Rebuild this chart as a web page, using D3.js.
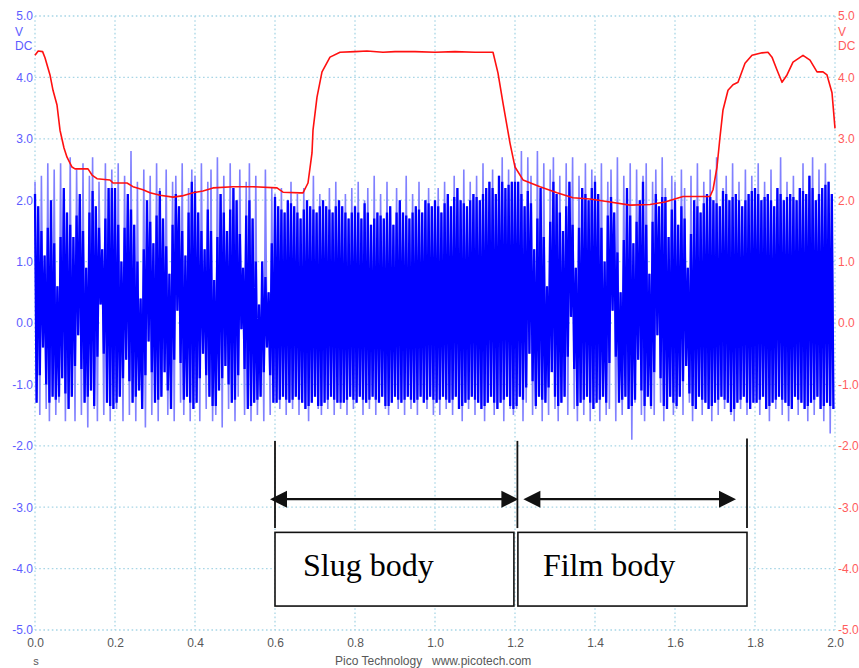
<!DOCTYPE html>
<html>
<head>
<meta charset="utf-8">
<script src="https://cdn.jsdelivr.net/npm/d3@7/dist/d3.min.js"></script>
<style>
  body { margin: 0; background: #ffffff; }
  svg { display: block; }
</style>
</head>
<body>
<svg id="scope" width="859" height="668"></svg>
<script>
// ---- Channel A (blue): successive positive / negative peaks of the pressure signal, V
// one high and one low per 8 ms, 0.0 s .. 2.0 s
const channelAHigh = [
  2.3, 1.9, 2.4, 1.1, 2.6, 2.0, 2.5, 0.6, 2.6, 2.2, 1.8, 2.7, 1.4, 2.5, 2.1, 2.6, 0.9, 2.4, 2.7, 1.9, 2.3, 1.2, 2.6, 2.2, 2.5,
  2.2, 2.6, 1.0, 2.4, 2.1, 2.8, 1.6, 2.3, 0.4, 2.5, 2.0, 2.4, 1.3, 2.6, 2.2, 1.7, 2.5, 0.8, 2.3, 2.4, 1.9, 2.6, 1.1, 2.2, 2.5,
  2.4, 1.8, 2.6, 1.2, 2.3, 2.5, 0.7, 2.7, 2.1, 2.4, 1.5, 2.6, 2.2, 2.0, 2.5, 0.9, 2.3, 2.6, 1.7, 2.4, 0.3, 1.0, 2.5, 0.5, 2.2,
  2.1, 1.9, 2.2, 1.8, 2.0, 2.3, 1.9, 2.1, 1.7, 2.2, 2.0, 1.9, 2.4, 1.8, 2.1, 2.0, 1.9, 2.2, 1.8, 2.3, 2.0, 1.9, 2.1, 1.7, 2.2,
  1.9, 2.3, 1.7, 2.0, 2.2, 1.6, 2.4, 1.8, 2.1, 1.7, 2.3, 1.9, 1.6, 2.2, 2.0, 1.8, 2.4, 1.7, 2.1, 1.9, 2.3, 1.8, 2.0, 2.2, 1.9,
  2.0, 2.2, 1.8, 2.3, 2.1, 1.9, 2.4, 2.2, 2.0, 2.5, 1.9, 2.3, 2.1, 2.4, 2.0, 2.6, 2.2, 2.3, 2.5, 2.1, 2.4, 2.7, 2.2, 2.5, 2.3,
  2.6, 2.3, 2.8, 1.9, 2.7, 2.4, 1.2, 2.8, 2.2, 2.6, 0.6, 2.5, 2.7, 2.1, 2.4, 1.5, 2.6, 2.3, 2.7, 0.9, 2.4, 2.2, 2.6, 2.0, 2.5,
  2.4, 2.1, 2.6, 1.0, 2.3, 2.5, 1.8, 2.7, 0.5, 2.4, 2.2, 2.6, 1.3, 2.5, 2.0, 2.4, 2.6, 0.8, 2.3, 2.5, 1.9, 2.7, 2.2, 1.4, 2.4,
  2.3, 1.6, 2.5, 2.2, 0.9, 2.4, 2.0, 2.6, 1.8, 2.3, 2.1, 2.5, 2.0, 2.7, 1.9, 2.2, 2.4, 2.0, 2.6, 2.1, 2.3, 1.9, 2.5, 2.1, 2.4,
  2.2, 2.6, 2.0, 2.3, 2.1, 2.5, 1.9, 2.2, 2.7, 2.0, 2.3, 2.1, 2.4, 2.0, 2.2, 2.6, 2.1, 2.4, 2.7, 2.0, 2.5, 2.2, 2.6, 2.3, 2.1
];
const channelALow = [
  -1.3, -1.5, -0.4, -1.4, -1.6, -1.2, -1.5, -1.3, -0.9, -1.6, -1.4, -1.2, -1.6, -0.2, -1.5, -1.3, -1.7, -1.1, -1.4, -1.6, 0.3, -1.5, -1.3, -1.6, -1.4,
  -1.4, -1.2, -1.6, -0.6, -1.5, -1.3, -1.6, -1.1, -1.4, -1.7, -0.3, -1.5, -1.3, -1.6, -1.2, -0.8, -1.5, -1.4, -1.6, 0.2, -1.3, -1.5, -1.2, -1.6, -1.4,
  -1.3, -1.6, -0.5, -1.4, -1.2, -1.6, -1.5, -1.1, -1.7, -0.7, -1.4, -1.3, -1.6, -1.2, -0.1, -1.5, -1.4, -1.6, -1.3, -1.5, -1.2, -1.6, -0.4, -1.5, -1.3,
  -1.3, -1.4, -1.2, -1.5, -1.3, -1.4, -1.2, -1.5, -1.3, -1.4, -1.6, -1.3, -1.2, -1.4, -1.5, -1.3, -1.4, -1.2, -1.5, -1.3, -1.4, -1.3, -1.5, -1.2, -1.4,
  -1.3, -1.2, -1.5, -1.3, -1.4, -1.2, -1.5, -1.3, -1.2, -1.4, -1.5, -1.3, -1.2, -1.4, -1.3, -1.5, -1.2, -1.4, -1.3, -1.5, -1.2, -1.3, -1.4, -1.2, -1.5,
  -1.3, -1.5, -1.2, -1.4, -1.3, -1.5, -1.2, -1.4, -1.6, -1.3, -1.4, -1.2, -1.5, -1.3, -1.4, -1.6, -1.3, -1.2, -1.5, -1.4, -1.3, -1.6, -1.2, -1.4, -1.5,
  -1.4, -1.2, -1.6, -1.3, -0.5, -1.5, -1.4, -1.2, -1.6, -1.3, -1.5, -0.8, -1.4, -1.6, -1.3, -1.2, -1.5, 0.1, -1.4, -1.6, -1.3, -1.5, -1.2, -1.6, -1.4,
  -1.3, -1.6, -1.2, -1.5, -1.4, 0.2, -1.6, -1.3, -1.5, -1.2, -1.4, -1.9, -1.3, -0.6, -1.5, -1.6, -1.2, -1.4, -1.5, -0.2, -1.3, -1.6, -1.4, -1.2, -1.5,
  -1.4, -1.2, -1.5, -0.7, -1.3, -1.6, -1.4, -1.2, -1.5, -1.3, -1.4, -1.6, -1.3, -1.5, -1.2, -1.4, -1.3, -1.5, -1.6, -1.3, -1.4, -1.2, -1.5, -1.4, -1.3,
  -1.3, -1.5, -1.2, -1.4, -1.6, -1.3, -1.4, -1.2, -1.5, -1.3, -1.6, -1.4, -1.2, -1.5, -1.3, -1.4, -1.6, -1.3, -1.5, -1.2, -1.4, -1.6, -1.3, -1.8, -1.4
];
const channelAPeriod = 0.008; // s between successive highs

// ---- Channel B (red): conductance probe voltage, V
const channelBTime = [
  0.0, 0.008, 0.019, 0.025, 0.0375, 0.045, 0.055, 0.0625, 0.0725, 0.08, 0.0925, 0.1, 0.1325, 0.1425, 0.155, 0.1875,
  0.195, 0.23, 0.245, 0.27, 0.2875, 0.3125, 0.345, 0.3675, 0.395, 0.42, 0.445, 0.495, 0.545, 0.605, 0.62, 0.6625,
  0.67, 0.6825, 0.6925, 0.695, 0.705, 0.7175, 0.7375, 0.7625, 0.8, 0.83, 0.87, 0.9, 0.95, 1.0, 1.05, 1.1, 1.145,
  1.1575, 1.17, 1.1875, 1.2, 1.22, 1.2625, 1.305, 1.345, 1.3875, 1.4375, 1.4875, 1.5375, 1.575, 1.62, 1.6875,
  1.695, 1.705, 1.7125, 1.72, 1.7325, 1.745, 1.7575, 1.775, 1.7925, 1.8175, 1.8325, 1.8425, 1.855, 1.8675, 1.88,
  1.895, 1.92, 1.9375, 1.955, 1.97, 1.98, 1.9925, 2.0
];
const channelBVolt = [
  4.36, 4.43, 4.42, 4.32, 4.04, 3.79, 3.55, 3.14, 2.85, 2.70, 2.54, 2.51, 2.51, 2.41, 2.35, 2.33,
  2.28, 2.28, 2.22, 2.17, 2.12, 2.08, 2.05, 2.07, 2.12, 2.15, 2.20, 2.22, 2.22, 2.20, 2.13, 2.12,
  2.12, 2.28, 2.77, 3.14, 3.68, 4.09, 4.33, 4.41, 4.42, 4.43, 4.41, 4.42, 4.42, 4.41, 4.42, 4.41, 4.41,
  4.07, 3.58, 2.93, 2.54, 2.33, 2.22, 2.12, 2.04, 2.02, 1.97, 1.92, 1.93, 1.97, 2.06, 2.06,
  2.17, 2.54, 3.03, 3.47, 3.79, 3.88, 3.92, 4.23, 4.36, 4.40, 4.41, 4.33, 4.12, 3.92, 4.04,
  4.25, 4.36, 4.28, 4.09, 4.09, 4.04, 3.75, 3.17
];

// ---- Axes
const timeTicks = [0.0, 0.2, 0.4, 0.6, 0.8, 1.0, 1.2, 1.4, 1.6, 1.8, 2.0];
const voltTicks = [-5, -4, -3, -2, -1, 0, 1, 2, 3, 4, 5];

// ---- Flow-regime annotation: region boundaries (s) and names
const regionBounds = [0.6, 1.206, 1.78];
const regionNames = ["Slug body", "Film body"];

const svg = d3.select("#scope");
const x = d3.scaleLinear().domain([0, 2]).range([35, 835]);
const y = d3.scaleLinear().domain([-5, 5]).range([630, 16]);
const fmt = d => d.toFixed(1);

// dotted graticule
const grid = svg.append("g").attr("stroke", "#a8d6e6").attr("stroke-width", 1.3)
  .attr("stroke-dasharray", "1.6,2.6");
grid.selectAll("line.v").data(timeTicks).join("line").attr("class", "v")
  .attr("x1", d => x(d)).attr("x2", d => x(d)).attr("y1", y(5)).attr("y2", y(-5));
grid.selectAll("line.h").data(voltTicks).join("line").attr("class", "h")
  .attr("x1", x(0)).attr("x2", x(2)).attr("y1", d => y(d)).attr("y2", d => y(d));

// left (channel A) and right (channel B) voltage scales
const labelFont = "'Liberation Sans', Arial, sans-serif";
const leftAxis = svg.append("g").attr("transform", `translate(${x(0)},0)`)
  .call(d3.axisLeft(y).tickValues(voltTicks).tickFormat(fmt).tickSize(0).tickPadding(2));
leftAxis.select(".domain").remove();
leftAxis.selectAll("text").attr("fill", "#5c5cff").style("font", `12px ${labelFont}`);

const rightAxis = svg.append("g").attr("transform", `translate(${x(2)},0)`)
  .call(d3.axisRight(y).tickValues(voltTicks).tickFormat(fmt).tickSize(0).tickPadding(3));
rightAxis.select(".domain").remove();
rightAxis.selectAll("text").attr("fill", "#ff5c5c").style("font", `12px ${labelFont}`);

// unit captions under the top labels
[["V", 32], ["DC", 46]].forEach(([s, yy]) => {
  svg.append("text").attr("x", 15).attr("y", yy).attr("dy", "0.32em")
    .attr("fill", "#5c5cff").style("font", `12px ${labelFont}`).text(s);
  svg.append("text").attr("x", 838).attr("y", yy).attr("dy", "0.32em")
    .attr("fill", "#ff5c5c").style("font", `12px ${labelFont}`).text(s);
});

// time axis
const bottomAxis = svg.append("g").attr("transform", `translate(0,${y(-5)})`)
  .call(d3.axisBottom(x).tickValues(timeTicks).tickFormat(fmt).tickSize(0).tickPadding(8));
bottomAxis.select(".domain").remove();
bottomAxis.selectAll("text").attr("fill", "#585858").style("font", `12px ${labelFont}`);
svg.append("text").attr("x", 36).attr("y", 665).attr("text-anchor", "middle")
  .attr("fill", "#585858").style("font", `11px ${labelFont}`).text("s");
svg.append("text").attr("x", 335).attr("y", 665)
  .attr("fill", "#585858").style("font", `12px ${labelFont}`).text("Pico Technology");
svg.append("text").attr("x", 432).attr("y", 665)
  .attr("fill", "#585858").style("font", `12px ${labelFont}`).text("www.picotech.com");

// ---- Channel A trace as a zig-zag through its peaks
const tracePts = [];
channelAHigh.forEach((h, i) => {
  tracePts.push([i * channelAPeriod, h]);
  tracePts.push([i * channelAPeriod + channelAPeriod / 2, channelALow[i]]);
});
// dense core: isolated excursions beyond both neighbours are held to the neighbours' mean
const n = channelAHigh.length;
const nb = (arr, i) => (arr[Math.max(0, i - 1)] + arr[Math.min(n - 1, i + 1)]) / 2;
const corePts = [];
channelAHigh.forEach((h, i) => {
  corePts.push([i * channelAPeriod, Math.min(h, nb(channelAHigh, i))]);
  corePts.push([i * channelAPeriod + channelAPeriod / 2, Math.max(channelALow[i], nb(channelALow, i))]);
});
const line = d3.line().x(d => x(d[0])).y(d => y(d[1]));
svg.append("path").attr("d", line(tracePts)).attr("fill", "none")
  .attr("stroke", "#8080ff").attr("stroke-width", 1.6).attr("stroke-linejoin", "miter");
svg.append("path").attr("d", line(corePts)).attr("fill", "none")
  .attr("stroke", "#0000ff").attr("stroke-width", 2.3);

// ---- Channel B trace
const redPts = channelBTime.map((t, i) => [t, channelBVolt[i]]);
svg.append("path").attr("d", line(redPts)).attr("fill", "none")
  .attr("stroke", "#ff1010").attr("stroke-width", 1.6).attr("stroke-linejoin", "round");

// ---- Region annotation: boundary ticks, double arrows and labelled boxes
const ann = svg.append("g").attr("stroke", "#111").attr("fill", "none");
const tickTop = [-1.92, -1.92, -1.88];
regionBounds.forEach((b, i) => {
  ann.append("line").attr("x1", x(b)).attr("x2", x(b))
    .attr("y1", y(tickTop[i])).attr("y2", y(-3.34)).attr("stroke-width", 1.8);
});
const arrowY = y(-2.87);
function doubleArrow(x1, x2) {
  const L = 17, H = 8.5;
  ann.append("line").attr("x1", x1 + L - 2).attr("x2", x2 - L + 2)
    .attr("y1", arrowY).attr("y2", arrowY).attr("stroke-width", 2.2);
  ann.append("path").attr("stroke", "none").attr("fill", "#111")
    .attr("d", `M${x1},${arrowY} L${x1 + L},${arrowY - H} L${x1 + L},${arrowY + H} Z`);
  ann.append("path").attr("stroke", "none").attr("fill", "#111")
    .attr("d", `M${x2},${arrowY} L${x2 - L},${arrowY - H} L${x2 - L},${arrowY + H} Z`);
}
doubleArrow(x(regionBounds[0]) - 5, x(regionBounds[1]) + 1);
doubleArrow(x(regionBounds[1]) + 6, x(regionBounds[2]) - 11);

const boxTop = y(-3.41), boxBot = y(-4.61);
const boxes = [[x(regionBounds[0]), x(regionBounds[1]) - 3.5], [x(regionBounds[1]) + 0.5, x(regionBounds[2])]];
boxes.forEach(([a, b], i) => {
  ann.append("rect").attr("x", a).attr("y", boxTop).attr("width", b - a).attr("height", boxBot - boxTop)
    .attr("stroke-width", 1.6).attr("fill", "#ffffff");
  svg.append("text").attr("x", a + (i === 0 ? 28 : 25)).attr("y", 576)
    .attr("fill", "#000").style("font", "32px 'Liberation Serif', 'Times New Roman', serif")
    .text(regionNames[i]);
});
</script>
</body>
</html>
